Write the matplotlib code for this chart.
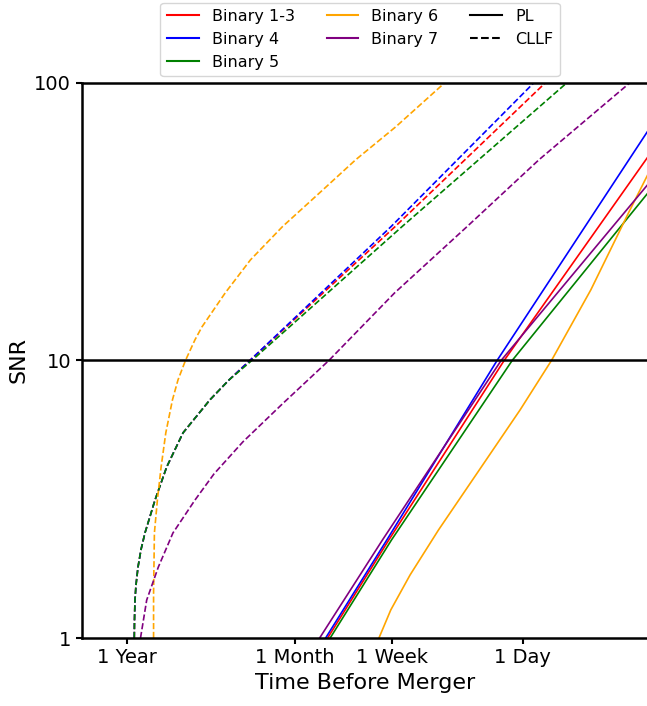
import numpy as np
import matplotlib.pyplot as plt
from matplotlib.lines import Line2D

# time before merger in days, SNR
# CLLF (dashed)
t_cllf_13 = [327.4, 326.4, 324.0, 319.2, 309.8, 296.3, 279.2, 240.4, 202.0, 158.4, 106.0, 79.8, 58.4, 6.72, 0.714]
snr_cllf_13 = [1, 1.16, 1.37, 1.55, 1.80, 2.08, 2.39, 3.14, 4.13, 5.48, 7.21, 8.50, 10, 30.3, 100]
t_cllf_4 = [327.4, 326.4, 324.0, 319.2, 309.8, 296.3, 279.2, 240.4, 202.0, 158.4, 106.0, 79.8, 58.4, 7.14, 0.848]
snr_cllf_4 = [1, 1.16, 1.37, 1.55, 1.80, 2.08, 2.39, 3.14, 4.13, 5.48, 7.21, 8.50, 10, 30.3, 100]
t_cllf_5 = [327.4, 326.4, 324.0, 319.2, 309.8, 296.3, 279.2, 240.4, 202.0, 158.4, 106.0, 79.8, 56.7, 6.06, 0.518]
snr_cllf_5 = [1, 1.16, 1.37, 1.55, 1.80, 2.08, 2.39, 3.14, 4.13, 5.48, 7.21, 8.50, 10, 30.3, 100]
t_cllf_6 = [245.6, 245.6, 243.9, 242.6, 232, 219.5, 204.7, 185.3, 170.7, 152.6, 132.5, 119.4,
            84.4, 58, 36, 20.7, 12.07, 6.64, 3.2]
snr_cllf_6 = [1, 1.45, 1.91, 2.39, 3.14, 4.13, 5.48, 7.21, 8.50, 10, 11.86, 13.2,
              17.5, 23.0, 30.3, 40.1, 52.8, 69.4, 100]
t_cllf_7 = [298.4, 272.1, 228.9, 184, 132.5, 99.8, 64.8, 36.0, 17.98, 6.76, 2.30, 0.786, 0.2026]
snr_cllf_7 = [1, 1.37, 1.80, 2.39, 3.14, 3.90, 5.09, 6.97, 10, 17.5, 30.3, 52.8, 100]

# PL (solid)
t_pl_13 = [18.35, 7.37, 1.32, 0.15]
snr_pl_13 = [1, 2.256, 10, 55.5]
t_pl_4 = [18.9, 7.59, 1.467, 0.15]
snr_pl_4 = [1, 2.256, 10, 69]
t_pl_5 = [17.67, 7.08, 1.171, 0.15]
snr_pl_5 = [1, 2.256, 10, 41]
t_pl_6 = [8.54, 7.16, 5.37, 3.516, 1.914, 1.042, 0.652, 0.363, 0.207, 0.15]
snr_pl_6 = [1, 1.262, 1.687, 2.45, 4.03, 6.63, 10, 17.95, 34.0, 48.5]
t_pl_7 = [20.67, 8.10, 1.381, 0.15]
snr_pl_7 = [1, 2.256, 10, 44]

names = ['Binary 1-3', 'Binary 4', 'Binary 5', 'Binary 6', 'Binary 7']
colors = ['red', 'blue', 'green', 'orange', 'purple']
pl = [(t_pl_13, snr_pl_13), (t_pl_4, snr_pl_4), (t_pl_5, snr_pl_5), (t_pl_6, snr_pl_6), (t_pl_7, snr_pl_7)]
cllf = [(t_cllf_13, snr_cllf_13), (t_cllf_4, snr_cllf_4), (t_cllf_5, snr_cllf_5),
        (t_cllf_6, snr_cllf_6), (t_cllf_7, snr_cllf_7)]

tick_t = [365, 30, 7, 1]
tick_labels = ['1 Year', '1 Month', '1 Week', '1 Day']

fig = plt.figure(figsize=(6.47, 7.06), dpi=100)
ax = fig.add_axes([81.5 / 647, 68 / 706, (649 - 81.5) / 647, (638 - 82.7) / 706])

for i in range(len(names)):
    ax.plot(pl[i][0], pl[i][1], color=colors[i], lw=1.2)
    ax.plot(cllf[i][0], cllf[i][1], color=colors[i], lw=1.2, ls='--')

ax.axhline(10, color='black', lw=1.8)

ax.set_xscale('log')
ax.set_yscale('log')
ax.set_xlim(719, 0.1526)
ax.set_ylim(1, 100)
ax.set_xticks(tick_t)
ax.set_xticklabels(tick_labels)
ax.set_yticks([1, 10, 100])
ax.set_yticklabels(['1', '10', '100'])
ax.minorticks_off()
ax.tick_params(labelsize=14, width=1.5, length=4)
for s in ax.spines.values():
    s.set_linewidth(1.8)

ax.set_xlabel('Time Before Merger', fontsize=16)
ax.set_ylabel('SNR', fontsize=16)

handles = [Line2D([], [], color=c, lw=1.5) for c in colors]
handles += [Line2D([], [], color='black', lw=1.5), Line2D([], [], color='black', lw=1.5, ls='--')]
labels = names + ['PL', 'CLLF']
fig.legend(handles, labels, ncol=3, fontsize=11.5, loc='center',
           bbox_to_anchor=(360 / 647, 1 - 39.5 / 706))

fig.savefig('out.png', dpi=100)
